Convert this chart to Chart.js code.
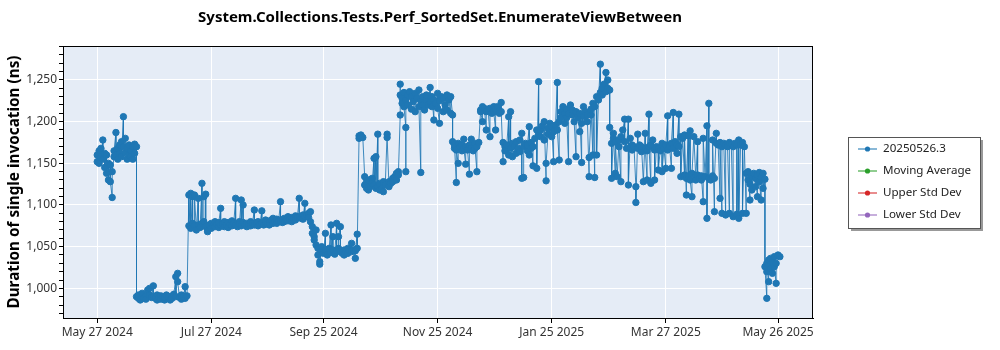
<!DOCTYPE html>
<html>
<head>
<meta charset="utf-8">
<script src="https://cdn.jsdelivr.net/npm/chart.js@4.4.1/dist/chart.umd.min.js"></script>
<style>
  html, body { margin: 0; padding: 0; background: #fff; }
  #wrap { width: 1000px; height: 350px; }
</style>
</head>
<body>
<div id="wrap"><canvas id="perfChart" width="1000" height="350"></canvas></div>
<script>
const chartTitle = 'System.Collections.Tests.Perf_SortedSet.EnumerateViewBetween'
const yTitle = 'Duration of single invocation (ns)'
const fontFamily = "'Noto Sans', 'Open Sans', sans-serif"

// x axis is in days since May 27 2024
const tickDates = ['May 27 2024', 'Jul 27 2024', 'Sep 25 2024', 'Nov 25 2024', 'Jan 25 2025', 'Mar 27 2025', 'May 26 2025']
const tickDays = [0, 61, 121, 182, 243, 304, 364]
const yTickValues = [1000, 1050, 1100, 1150, 1200, 1250]

const seriesNames = ['20250526.3', 'Moving Average', 'Upper Std Dev', 'Lower Std Dev']
const seriesColors = ['#1f77b4', '#2ca02c', '#d62728', '#9467bd']

// one entry per benchmark run: day of the run and measured duration (ns)
const runDay = [
    0,0,1,1,2,2,3,3,4,4,5,5,6,6,7,7,8,8,9,9,10,10,11,11,12,12,13,13,14,14,15,15,16,16,17,17,18,18,19,19,20,20,21,
    21,22,22,23,24,24,25,26,26,27,28,28,29,30,30,31,32,32,33,34,34,35,36,36,37,38,38,39,40,40,41,42,42,43,43,44,45,45,46,47,47,48,
    49,49,50,50,51,51,52,52,53,54,54,55,56,56,57,57,58,58,
    59,59,60,61,61,62,63,63,64,65,65,66,66,67,68,68,
    69,70,70,71,72,72,73,74,74,75,76,76,77,77,78,78,
    79,80,80,81,82,82,83,84,84,85,86,86,87,88,88,
    89,90,90,91,92,92,93,94,94,95,96,96,97,98,98,
    99,100,100,101,102,102,103,104,104,105,106,106,107,108,108,
    109,110,110,111,111,112,113,113,114,114,115,115,
    116,116,117,117,118,118,119,119,120,120,121,122,122,123,124,124,125,125,
    126,126,127,128,128,129,129,130,130,131,132,132,133,134,134,135,
    136,136,137,138,138,139,139,140,140,141,141,142,143,143,
    144,144,145,145,146,147,147,148,148,149,149,150,150,151,151,152,153,153,
    154,155,155,156,156,157,158,158,159,160,160,161,161,162,162,162,
    163,163,164,164,165,165,165,166,166,167,168,168,169,170,170,171,172,172,
    173,173,174,174,175,176,176,177,178,178,179,179,180,180,181,182,182,
    183,183,184,185,185,186,187,187,188,189,189,190,190,
    191,191,192,192,193,193,194,195,195,196,196,197,197,198,199,199,200,200,201,202,202,203,203,204,
    205,205,206,206,207,208,208,209,210,210,211,212,212,213,213,214,215,215,216,216,217,217,
    218,218,219,220,220,221,221,222,222,223,224,224,225,226,226,227,227,
    228,228,229,230,230,231,231,232,232,233,233,234,235,235,236,236,
    237,237,238,239,239,240,240,241,241,242,243,243,244,244,245,246,246,247,247,248,248,249,250,250,
    251,251,252,252,253,254,254,255,256,256,257,258,258,259,259,260,260,261,262,262,
    263,263,264,264,265,265,266,266,267,267,268,269,269,270,270,271,272,272,273,273,274,274,
    275,275,276,276,277,277,278,279,279,280,280,281,282,282,283,284,284,285,286,286,287,288,288,289,289,290,
    291,291,292,293,293,294,294,295,295,296,296,297,298,298,299,300,300,301,
    302,302,303,304,304,305,305,306,307,307,308,308,309,310,310,311,311,
    312,312,313,314,314,315,315,316,316,317,317,318,318,319,320,320,321,321,322,
    323,323,324,324,325,326,326,327,327,328,329,329,330,330,331,331,332,333,333,
    334,334,335,336,336,337,338,338,339,340,340,341,342,342,343,343,344,345,345,346,
    347,347,348,348,349,349,350,350,351,352,352,353,353,354,354,355,355,356,356,357,357,
    358,358,358,359,359,359,360,360,361,361,362,362,363,363,364,364,365
]
const runNs = [
    1160,1152,1165,1150,1168,1158,1178,1155,1162,1145,1160,1138,1150,1130,1148,1128,1109,1140,1158,1165,1187,1160,1168,1155,1172,1162,1176,1158,1206,1170,1163,1180,1155,1168,1160,1172,1158,1165,1155,1170,1162,1173,1170,
    990,988,992,986,990,994,988,991,987,998,1000,992,989,1003,990,988,992,986,989,991,987,990,986,989,992,988,990,986,991,988,993,1014,990,1018,1008,989,992,987,990,1002,988,991,
    1112,1075,1114,1072,1110,1078,1075,1112,1070,1108,1076,1073,1126,1078,1080,1110,1113,1074,
    1070,1068,1076,1072,1078,1075,1080,1074,1077,1073,1079,1096,1076,1078,1074,1080,
    1076,1079,1073,1077,1081,1075,1078,1108,1076,1074,1080,1077,1106,1075,1100,1079,
    1076,1078,1074,1077,1080,1075,1078,1094,1076,1079,1075,1080,1077,1093,1078,
    1076,1079,1082,1077,1080,1076,1082,1078,1084,1080,1083,1078,1081,1104,1082,
    1079,1084,1080,1082,1086,1081,1083,1080,1085,1084,1087,1082,1085,1108,1086,
    1084,1088,1083,1102,1086,1088,1090,1085,1092,1080,1074,1066,
    1062,1058,1070,1052,1048,1040,1029,1032,1045,1050,1042,1066,1046,1040,1044,1048,1076,1043,
    1062,1046,1041,1078,1045,1048,1062,1074,1044,1042,1046,1040,1044,1048,1042,1045,
    1054,1044,1046,1036,1045,1065,1048,1183,1180,1184,1182,1181,1134,1124,
    1128,1120,1118,1130,1122,1132,1126,1156,1124,1158,1120,1185,1122,1126,1118,1120,1128,1116,
    1124,1185,1181,1122,1128,1126,1132,1128,1134,1138,1130,1140,1136,1208,1245,1232,
    1228,1222,1235,1218,1193,1140,1226,1232,1220,1236,1215,1230,1224,1212,1234,1228,1238,1218,
    1139,1225,1230,1220,1214,1226,1232,1220,1241,1224,1218,1230,1202,1226,1222,1234,1216,
    1198,1225,1230,1212,1228,1220,1232,1214,1226,1210,1230,1208,1176,
    1168,1172,1127,1166,1150,1174,1170,1165,1172,1179,1168,1149,1170,1166,1137,1172,1179,1168,1165,1174,1168,1140,1170,1175,
    1214,1212,1200,1218,1216,1190,1212,1215,1182,1216,1210,1218,1212,1190,1215,1218,1213,1210,1223,1212,1152,1175,
    1170,1165,1172,1206,1160,1212,1168,1158,1174,1170,1176,1162,1168,1164,1178,1186,1132,
    1133,1170,1174,1165,1172,1194,1160,1168,1175,1147,1170,1180,1190,1144,1248,1185,
    1190,1182,1195,1178,1200,1129,1150,1185,1192,1198,1182,1194,1152,1188,1196,1247,1190,1154,1200,1212,1205,1218,1210,1198,
    1215,1205,1152,1210,1220,1208,1214,1200,1158,1212,1205,1188,1210,1151,1198,1218,1206,1212,1200,1208,
    1134,1157,1208,1215,1160,1222,1133,1218,1230,1160,1226,1269,1235,1240,1232,1245,1259,1236,1250,1240,1238,1193,
    1174,1132,1186,1180,1138,1176,1134,1178,1170,1128,1182,1190,1203,1176,1168,1203,1124,1180,1172,1166,1170,1122,1103,1185,1168,1172,
    1164,1170,1128,1186,1168,1130,1165,1209,1170,1126,1172,1178,1166,1130,1170,1168,1142,1165,
    1174,1140,1168,1144,1172,1207,1166,1170,1144,1174,1211,1168,1176,1162,1172,1209,1170,
    1182,1134,1180,1136,1184,1112,1132,1183,1135,1189,1130,1110,1138,1182,1134,1130,1176,1136,1132,
    1130,1135,1104,1180,1134,1195,1084,1222,1132,1130,1135,1178,1092,1132,1186,1174,1172,1108,1175,
    1090,1170,1174,1088,1172,1170,1090,1175,1173,1086,1170,1174,1172,1089,1178,1084,1172,1175,1090,1170,
    1090,1138,1130,1140,1106,1125,1134,1118,1138,1122,1132,1110,1136,1139,1128,1106,1134,1138,1120,1131,1026,
    988,1020,1030,1008,1028,1034,1024,1036,1032,1018,1038,1026,1006,1030,1040,1039,1038
]

if (runDay.length !== runNs.length) {
    throw new Error('runDay/runNs length mismatch: ' + runDay.length + ' vs ' + runNs.length)
}

const runPoints = runDay.map((d, i) => ({ x: d, y: runNs[i] }))

// Plot background, frame, title and the boxed legend on the right
const perfDecor = {
    id: 'perfDecor',
    beforeDraw(chart) {
        const { ctx, chartArea: a } = chart
        ctx.save()
        ctx.fillStyle = '#e5ecf6'
        ctx.fillRect(a.left, a.top, a.right - a.left, a.bottom - a.top)
        ctx.restore()
    },
    afterDraw(chart) {
        const { ctx, chartArea: a } = chart
        ctx.save()
        ctx.strokeStyle = '#000'
        ctx.lineWidth = 1
        ctx.strokeRect(Math.round(a.left) + 0.5, Math.round(a.top) + 0.5,
            Math.round(a.right - a.left) - 1, Math.round(a.bottom - a.top))

        // title
        ctx.fillStyle = '#000'
        ctx.font = 'bold 15px ' + fontFamily
        ctx.textAlign = 'center'
        ctx.textBaseline = 'middle'
        ctx.fillText(chartTitle, 440, 18)

        // legend box with drop shadow
        const lx = 848, ly = 137, lw = 132, lh = 91
        ctx.fillStyle = 'rgba(0,0,0,0.4)'
        ctx.fillRect(lx + 3, ly + 3, lw, lh)
        ctx.fillStyle = '#fff'
        ctx.fillRect(lx, ly, lw, lh)
        ctx.strokeStyle = '#555'
        ctx.strokeRect(lx + 0.5, ly + 0.5, lw, lh)

        ctx.font = '11.6px ' + fontFamily
        ctx.textAlign = 'left'
        chart.data.datasets.forEach((ds, i) => {
            const y = ly + 12 + i * 22
            ctx.globalAlpha = 0.7
            ctx.strokeStyle = seriesColors[i]
            ctx.lineWidth = 1.5
            ctx.beginPath()
            ctx.moveTo(858, y)
            ctx.lineTo(877, y)
            ctx.stroke()
            ctx.globalAlpha = 1
            ctx.fillStyle = seriesColors[i]
            ctx.beginPath()
            ctx.arc(867.5, y, 2.6, 0, Math.PI * 2)
            ctx.fill()
            ctx.fillStyle = '#222'
            ctx.fillText(ds.label, 883, y)
        })
        ctx.restore()
    }
}

const perfChart = new Chart(document.getElementById('perfChart'), {
    type: 'line',
    data: {
        datasets: seriesNames.map((name, i) => ({
            label: name,
            data: i === 0 ? runPoints : [],
            borderColor: i === 0 ? 'rgba(31,119,180,0.85)' : seriesColors[i],
            backgroundColor: seriesColors[i],
            borderWidth: 1,
            pointRadius: 3.2,
            pointBorderWidth: 1,
            pointBackgroundColor: seriesColors[i],
            pointBorderColor: seriesColors[i],
            tension: 0
        }))
    },
    options: {
        responsive: false,
        animation: false,
        layout: { padding: { top: 46, right: 187, left: 0, bottom: 0 } },
        plugins: {
            legend: { display: false },
            title: { display: false },
            tooltip: { enabled: false }
        },
        scales: {
            x: {
                type: 'linear',
                min: -18.3,
                max: 382.7,
                afterBuildTicks: scale => { scale.ticks = tickDays.map(v => ({ value: v })) },
                afterFit: scale => { scale.height = 32 },
                grid: { color: '#fff', lineWidth: 1, tickColor: '#000', tickLength: 5 },
                border: { color: '#000', width: 1 },
                ticks: {
                    autoSkip: false,
                    maxRotation: 0,
                    padding: 2,
                    color: '#333',
                    font: { family: fontFamily, size: 12 },
                    callback: (v, i) => tickDates[i]
                }
            },
            y: {
                min: 964.4,
                max: 1290.8,
                afterBuildTicks: scale => {
                    const t = []
                    for (let v = 970; v <= 1290; v += 10) t.push({ value: v })
                    scale.ticks = t
                },
                afterFit: scale => { scale.width = 63 },
                grid: {
                    color: c => yTickValues.includes(c.tick.value) ? '#fff' : 'rgba(0,0,0,0)',
                    tickColor: '#000',
                    tickLength: 4
                },
                border: { color: '#000', width: 1 },
                ticks: {
                    autoSkip: false,
                    padding: 2,
                    color: '#333',
                    font: { family: fontFamily, size: 12 },
                    callback: v => yTickValues.includes(v) ? v.toLocaleString('en-US') : ''
                },
                title: {
                    display: true,
                    text: yTitle,
                    color: '#000',
                    font: { family: fontFamily, size: 15.3, weight: 'bold' },
                    padding: { top: 5, bottom: 0 }
                }
            }
        }
    },
    plugins: [perfDecor]
})
</script>
</body>
</html>
